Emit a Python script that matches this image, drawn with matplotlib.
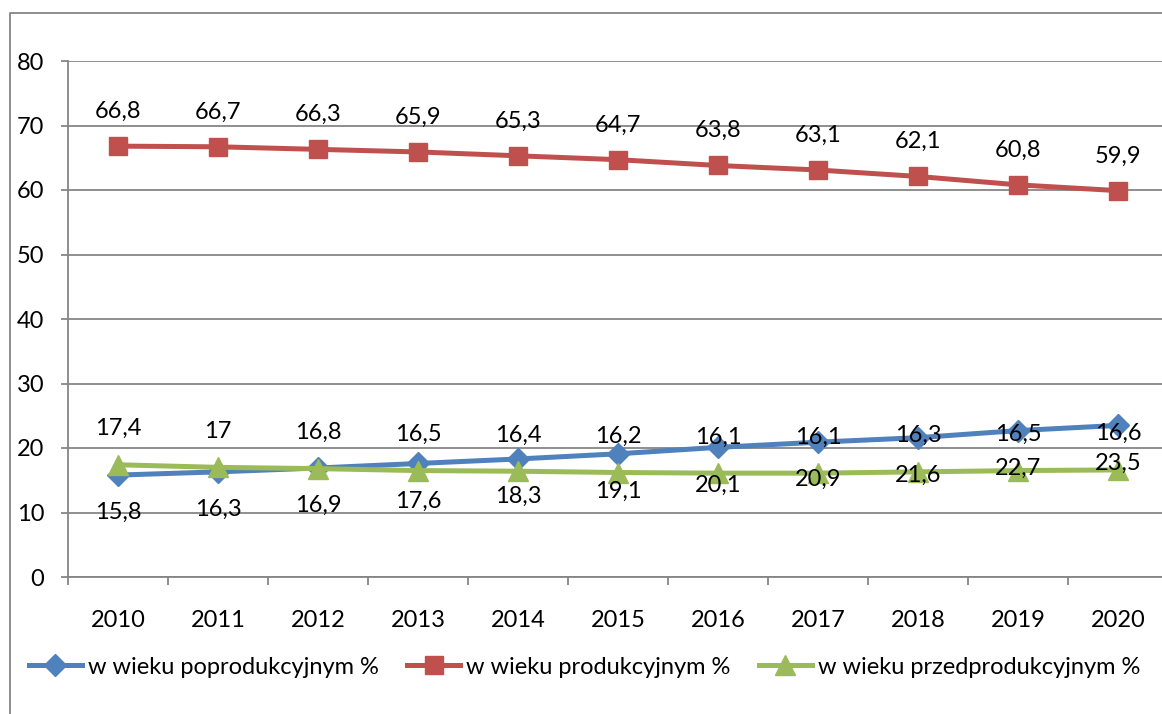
import matplotlib.pyplot as plt
from matplotlib.lines import Line2D
from matplotlib.ticker import MultipleLocator

years = ["2010", "2011", "2012", "2013", "2014", "2015", "2016", "2017", "2018", "2019", "2020"]
poprod = [15.8, 16.3, 16.9, 17.6, 18.3, 19.1, 20.1, 20.9, 21.6, 22.7, 23.5]
prod = [66.8, 66.7, 66.3, 65.9, 65.3, 64.7, 63.8, 63.1, 62.1, 60.8, 59.9]
przed = [17.4, 17.0, 16.8, 16.5, 16.4, 16.2, 16.1, 16.1, 16.3, 16.5, 16.6]

plt.rcParams["font.family"] = ["Lato", "DejaVu Sans"]
FS = 17
W, H = 1162, 714

fig = plt.figure(figsize=(W / 100, H / 100), dpi=100)
# plot area in pixels: left 68, top 61, bottom 577, width 1100 (runs past the right edge)
ax = fig.add_axes([68 / W, 1 - 577 / H, 1100 / W, (577 - 61) / H])

x = list(range(len(years)))
ax.plot(x, poprod, color="#4F81BD", lw=3.6, marker="D", ms=11, label="w wieku poprodukcyjnym %")
ax.plot(x, prod, color="#C0504D", lw=3.6, marker="s", ms=13, label="w wieku produkcyjnym %")
ax.plot(x, przed, color="#9BBB59", lw=3.6, marker="^", ms=14, label="w wieku przedprodukcyjnym %")

def fmt(v):
    s = ("%.1f" % v).rstrip("0").rstrip(".")
    return s.replace(".", ",")

for xi, v in zip(x, prod):
    ax.annotate(fmt(v), (xi, v), xytext=(0, 25), textcoords="offset points",
                ha="center", va="center", fontsize=FS)
for xi, v in zip(x, przed):
    ax.annotate(fmt(v), (xi, v), xytext=(0, 26), textcoords="offset points",
                ha="center", va="center", fontsize=FS)
for xi, v in zip(x, poprod):
    ax.annotate(fmt(v), (xi, v), xytext=(0, -27), textcoords="offset points",
                ha="center", va="center", fontsize=FS)

ax.set_ylim(0, 80)
ax.set_xlim(-0.5, 10.5)
ax.yaxis.set_major_locator(MultipleLocator(10))
ax.grid(axis="y", color="#868686", lw=1.3)
ax.set_axisbelow(True)

ax.set_xticks(x)
ax.set_xticklabels(years)
ax.set_xticks([i + 0.5 for i in range(-1, 11)], minor=True)
ax.tick_params(axis="x", which="major", length=0, pad=24, labelsize=FS)
ax.tick_params(axis="x", which="minor", length=6, width=1.3, color="#868686")
ax.tick_params(axis="y", length=5, width=1.3, color="#868686", pad=12, labelsize=FS)

for s in ["top", "right"]:
    ax.spines[s].set_visible(False)
for s in ["left", "bottom"]:
    ax.spines[s].set_color("#868686")
    ax.spines[s].set_linewidth(1.3)

fig.legend(loc="center", bbox_to_anchor=(0.503, 1 - 667 / H), ncol=3, frameon=False,
           fontsize=FS, handlelength=2.25, handletextpad=0.25, columnspacing=1.2)

# outer chart frame (only left and top visible in the crop)
fig.add_artist(Line2D([10 / W, 10 / W, 1.0], [0.0, 1 - 13 / H, 1 - 13 / H],
                      transform=fig.transFigure, color="#868686", lw=1.3))

fig.savefig("out.png", dpi=100)
